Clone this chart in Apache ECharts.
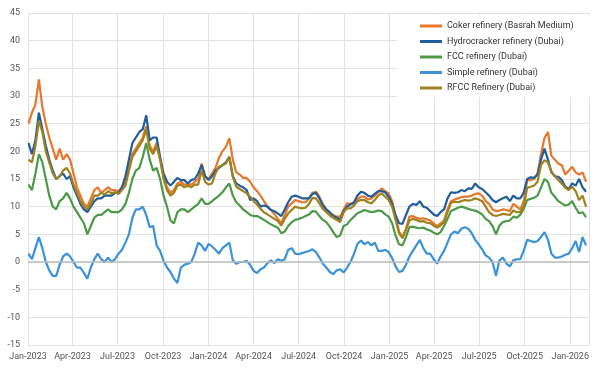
<!DOCTYPE html>
<html>
<head>
<meta charset="utf-8">
<script src="https://cdn.jsdelivr.net/npm/echarts@6/dist/echarts.min.js"></script>
<style>html,body{margin:0;padding:0;background:#fff}#c{width:602px;height:368px}</style>
</head>
<body>
<div id="c"></div>
<script>
const seriesNames = ['Coker refinery (Basrah Medium)', 'Hydrocracker refinery (Dubai)', 'FCC refinery (Dubai)', 'Simple refinery (Dubai)', 'RFCC Refinery (Dubai)'];

// weekly values, first week starting 2023-01-02
const coker = [
  25, 27, 28.5, 33, 28, 25, 22.5, 20.5, 18.5, 20.5,
  18.5, 19.5, 18.5, 16, 13.5, 12, 10.5, 10, 11.5, 13,
  13.5, 12.5, 13, 13.5, 13, 13, 12.8, 13.5, 14.5, 17,
  19.5, 20.5, 21.5, 22.5, 24.5, 21, 20, 21.5, 18.5, 15.5,
  13.5, 12.5, 13, 14.2, 14.5, 14, 14, 14, 14.5, 15,
  17.8, 15.5, 15, 16, 17, 18.8, 20, 20.8, 22.4, 18.5,
  16.2, 15.8, 15.2, 15.2, 14.5, 13.5, 12.8, 12, 11, 10,
  9.4, 8.7, 7.8, 7, 8.5, 10, 10.6, 11.2, 11, 10.8,
  10.8, 11.5, 12.5, 12.7, 11.8, 10.5, 9.5, 8.8, 8.5, 8.2,
  8.2, 9.5, 10.6, 10.5, 10.6, 11.3, 11.8, 11.8, 11.3, 11.5,
  12, 12.6, 13.3, 12.8, 12.4, 11, 8.2, 5.5, 4.5, 6,
  8.2, 8.3, 8, 7.8, 7.9, 7.7, 7.5, 7, 6.5, 7,
  7.5, 9.5, 11, 11.3, 11.5, 11.7, 11.8, 11.8, 12, 12.3,
  12.4, 12, 11, 10.5, 9.5, 9.2, 9.3, 9.5, 9.4, 9.2,
  10.5, 10, 9.5, 11, 14.8, 14.8, 15, 16, 19.5, 22.4,
  23.5, 19.2, 18.5, 17.8, 17.5, 15.8, 16.5, 17.2, 16.2, 15.8,
  16.2, 14.5
];
const hydrocracker = [
  21.5, 19.5, 22, 27, 24, 21, 18.5, 16.5, 15, 15.5,
  16, 15, 15.5, 13.5, 12, 10.5, 9.5, 9, 10, 11,
  11.5, 11.5, 12, 12, 12, 12.5, 12.5, 13.5, 15.5, 18.5,
  21.5, 22.5, 23.5, 24, 26.5, 22, 22.5, 22.5, 19, 16,
  14.5, 13.8, 14.5, 15.2, 14.8, 14.8, 14.2, 14.8, 15, 16,
  17.5, 15.5, 14.8, 15.5, 16.5, 17, 17.5, 18, 19, 15.5,
  14.2, 13.8, 13.5, 13, 11.2, 11.5, 11, 10, 10.2, 10,
  9.4, 9.2, 8.8, 8.3, 9.5, 10.8, 11.8, 12, 11.8, 11.5,
  11.5, 11.5, 12.3, 12.5, 11.5, 10.2, 9.5, 9, 8.3, 8,
  7.6, 9.2, 10, 10.4, 10.8, 12, 12.7, 12.5, 12, 11.8,
  12.3, 12.8, 12.8, 12.6, 11.8, 10.5, 8.5, 7, 6.9, 8.5,
  10, 10.5, 10.3, 11, 10, 9.8, 9.2, 8.6, 8.3, 9,
  9.5, 11.5, 12.6, 12.5, 12.6, 13, 12.8, 13.3, 13.2, 14.2,
  13.5, 13.2, 12.6, 12, 11.2, 10.8, 11.2, 11.5, 11.8, 11,
  12, 11.5, 11.5, 12.5, 15, 15.3, 15.2, 15.8, 18.5, 20.5,
  18.5, 16.2, 15.5, 15.4, 14.8, 13.6, 13.2, 14.2, 13.8, 15,
  13.5, 12.7
];
const fcc = [
  14, 13, 16, 19.5, 18, 15, 12, 10, 9.5, 11,
  11.5, 12.5, 11.5, 10, 9, 8, 7, 5, 6.5, 8,
  8.5, 8.5, 9, 9.5, 9, 9, 9, 9.5, 10.5, 12.5,
  15, 16.5, 17, 19, 21.5, 18.5, 16.5, 17, 15, 12,
  10, 7.5, 7, 9, 9.5, 9.5, 9, 9.5, 10, 10.5,
  11.5, 10.5, 10.5, 11, 11.5, 12, 12.6, 13.5, 14.2, 12,
  10.8, 10.2, 9.5, 9, 8.5, 8.3, 8.3, 8, 7.6, 7.2,
  6.8, 6.5, 6.2, 5.2, 5.5, 6.5, 7.2, 7.6, 7.8, 8,
  8.3, 8.6, 9.2, 9.1, 8.3, 7.6, 7.2, 6.4, 5.4, 4.5,
  4.8, 6.5, 6.8, 7.6, 8.2, 8.8, 9.1, 9.4, 9.2, 9,
  9.1, 9.3, 9.2, 8.6, 8.2, 7, 4.8, 3.2, 3, 4.5,
  6.3, 6.4, 6.2, 6.1, 6.2, 5.9, 5.7, 5.3, 5, 5.4,
  6.5, 7.8, 9.2, 9.5, 9.8, 10, 9.8, 9.6, 9.4, 9.3,
  9, 8.6, 7.8, 7.4, 6.5, 5, 6.6, 7.2, 7.4, 7.5,
  8.2, 8, 8.5, 9.6, 11.2, 11.4, 11.6, 12, 13.5, 15,
  14.5, 12.5, 11.8, 11, 10.6, 10.2, 10.4, 11, 9.8, 8.8,
  9, 8.1
];
const simple = [
  1.5, 0.5, 2.5, 4.5, 2.5, 0, -1.5, -2.5, -2.5, -0.5,
  1, 1.5, 1, 0, -1, -1, -2, -3, -1, 0.5,
  1.5, 0.5, 0, 0.8, 0, 0.5, 1.5, 2.2, 3.5, 5,
  8, 9.5, 9.5, 10, 8.5, 6.3, 6.5, 3, 2, 0.2,
  -1, -1.8, -3, -3.8, -1, -0.5, -0.3, 0, 1.5, 3.5,
  3, 2, 3.3, 2.8, 2.2, 1.5, 2.5, 3, 3.5, 0.3,
  -0.3, 0, 0, 0.2, -0.5, -1.6, -2, -1.3, -1, -0.2,
  0.3, -0.2, 0.5, 0.2, 0.5, 2.2, 2.5, 1.5, 1.4, 1.6,
  1.8, 2, 2.3, 1.8, 0.8, -0.3, -1, -1.8, -2.2, -1.5,
  -1.3, -1.9, -1, 0, 1.5, 3.3, 3.9, 3.2, 3.6, 3,
  3.5, 2, 2, 2.2, 1.8, 0.7, -0.8, -1.8, -1.6, -0.5,
  1, 2, 3, 4, 2.5, 1.5, 1.5, 0.5, -0.3, 1,
  2, 3.5, 5, 5.5, 5.2, 6, 6.3, 6, 5.2, 4,
  3.2, 2.3, 1.2, 0.8, 0, -2.5, 0.3, 0.8, -0.3, -0.8,
  0.3, 0.5, 0.5, 2, 4, 3.8, 3.6, 3.8, 4.5, 5.4,
  4, 1.5, 0.8, 0.8, 1, 1.3, 1.5, 2.5, 3.8, 1.8,
  4.5, 3
];
const rfcc = [
  18.5, 18, 21, 25.5, 23.5, 20, 18, 16, 15, 15.5,
  16.5, 17, 16, 14, 12.5, 11, 10, 9.5, 10.5, 12,
  12, 12.5, 12.2, 12.8, 12.4, 12.6, 12.3, 13, 13.8, 16.5,
  19, 20, 21, 22, 24, 20.5, 19.5, 21, 18.5, 15,
  13, 12, 12.5, 13.8, 14, 13.5, 13.8, 13.5, 14, 14,
  16.5, 14.5, 14, 14.2, 16, 17.2, 17.5, 17.8, 19, 15.4,
  13.6, 13.2, 12.8, 12.4, 11.8, 11, 10.4, 9.6, 9, 8.6,
  8.2, 7.8, 7.4, 6.6, 7.8, 8.8, 9.4, 10, 9.8, 9.7,
  9.8, 10.5, 11.6, 11.5, 10.6, 9.6, 9, 8.4, 8, 7.6,
  7.2, 9, 9.7, 9.7, 10.2, 11, 11.2, 11.2, 10.8, 10.6,
  11.2, 12, 12.4, 11.8, 11.2, 10, 7.6, 5.2, 4.3, 5.8,
  7.5, 7.8, 7.6, 7.3, 7.4, 7.1, 7, 6.6, 6.2, 6.6,
  7.2, 9, 10.7, 10.9, 10.8, 11, 11.2, 11.1, 11.2, 11.5,
  11.3, 11, 10, 9, 8.5, 8.3, 8.5, 8.7, 8.6, 8.5,
  9.3, 9, 9, 10, 13.4, 13.6, 13.8, 14.5, 17.5, 18.4,
  18, 16.4, 15.5, 14.8, 14.2, 13.4, 13, 13.6, 12.8, 11.2,
  12, 10
];

// category dates: one per week from 2023-01-02
const dates = coker.map((_, i) => new Date(2023, 0, 2 + 7 * i).getTime());

const quarterTicks = ['2023-01-01','2023-04-01','2023-07-01','2023-10-01','2024-01-01','2024-04-01','2024-07-01','2024-10-01','2025-01-01','2025-04-01','2025-07-01','2025-10-01','2026-01-01'];
const monthNames = ['Jan','Feb','Mar','Apr','May','Jun','Jul','Aug','Sep','Oct','Nov','Dec'];

function toTime(s) { const p = s.split('-').map(Number); return new Date(p[0], p[1] - 1, p[2]).getTime(); }
const xMin = toTime('2023-01-01');
const xMax = toTime('2026-02-08');
const labelValues = quarterTicks.map(toTime);
const tickValues = labelValues.concat([xMax]);

const colors = ['#E8772C', '#1F5D9C', '#4C9A47', '#3A92DB', '#A0821C'];
const valuesList = [coker, hydrocracker, fcc, simple, rfcc];

const series = valuesList.map((vals, k) => {
  const s = {
    name: seriesNames[k],
    type: 'line',
    data: vals.map((v, i) => [dates[i], v]),
    symbol: 'none',
    showSymbol: false,
    lineStyle: { width: 2.2, color: colors[k] },
    itemStyle: { color: colors[k] },
    emphasis: { disabled: true }
  };
  if (k === 0) {
    s.markLine = {
      silent: true, symbol: 'none', label: { show: false },
      lineStyle: { color: '#bdbdbd', width: 1.5, type: 'solid' },
      data: [{ yAxis: 0 }]
    };
  }
  return s;
});

const chart = echarts.init(document.getElementById('c'), null, { renderer: 'canvas' });
chart.setOption({
  animation: false,
  grid: { left: 28, right: 13, top: 13, bottom: 23 },
  xAxis: {
    type: 'value', min: xMin, max: xMax, scale: true,
    axisLine: { show: false },
    axisTick: { show: false, customValues: tickValues },
    axisLabel: {
      customValues: labelValues,
      formatter: v => { const d = new Date(v); return monthNames[d.getMonth()] + '-' + d.getFullYear(); },
      color: '#555', fontSize: 9, margin: 7, fontFamily: 'Roboto'
    },
    splitLine: { show: true, lineStyle: { color: '#e2e2e2', width: 1 } }
  },
  yAxis: {
    type: 'value', min: -15, max: 45, interval: 5,
    axisLine: { show: false }, axisTick: { show: false },
    axisLabel: { color: '#555', fontSize: 9, margin: 8, fontFamily: 'Roboto' },
    splitLine: { show: true, lineStyle: { color: '#e2e2e2', width: 1 } }
  },
  legend: {
    orient: 'vertical', left: 397, top: 15,
    padding: [5, 18, 3, 23],
    backgroundColor: '#fff',
    icon: 'rect', itemWidth: 22, itemHeight: 3, itemGap: 3.5,
    textStyle: { fontSize: 9, color: '#333', lineHeight: 12, fontFamily: 'Roboto' },
    data: seriesNames
  },
  series: series
});
</script>
</body>
</html>
